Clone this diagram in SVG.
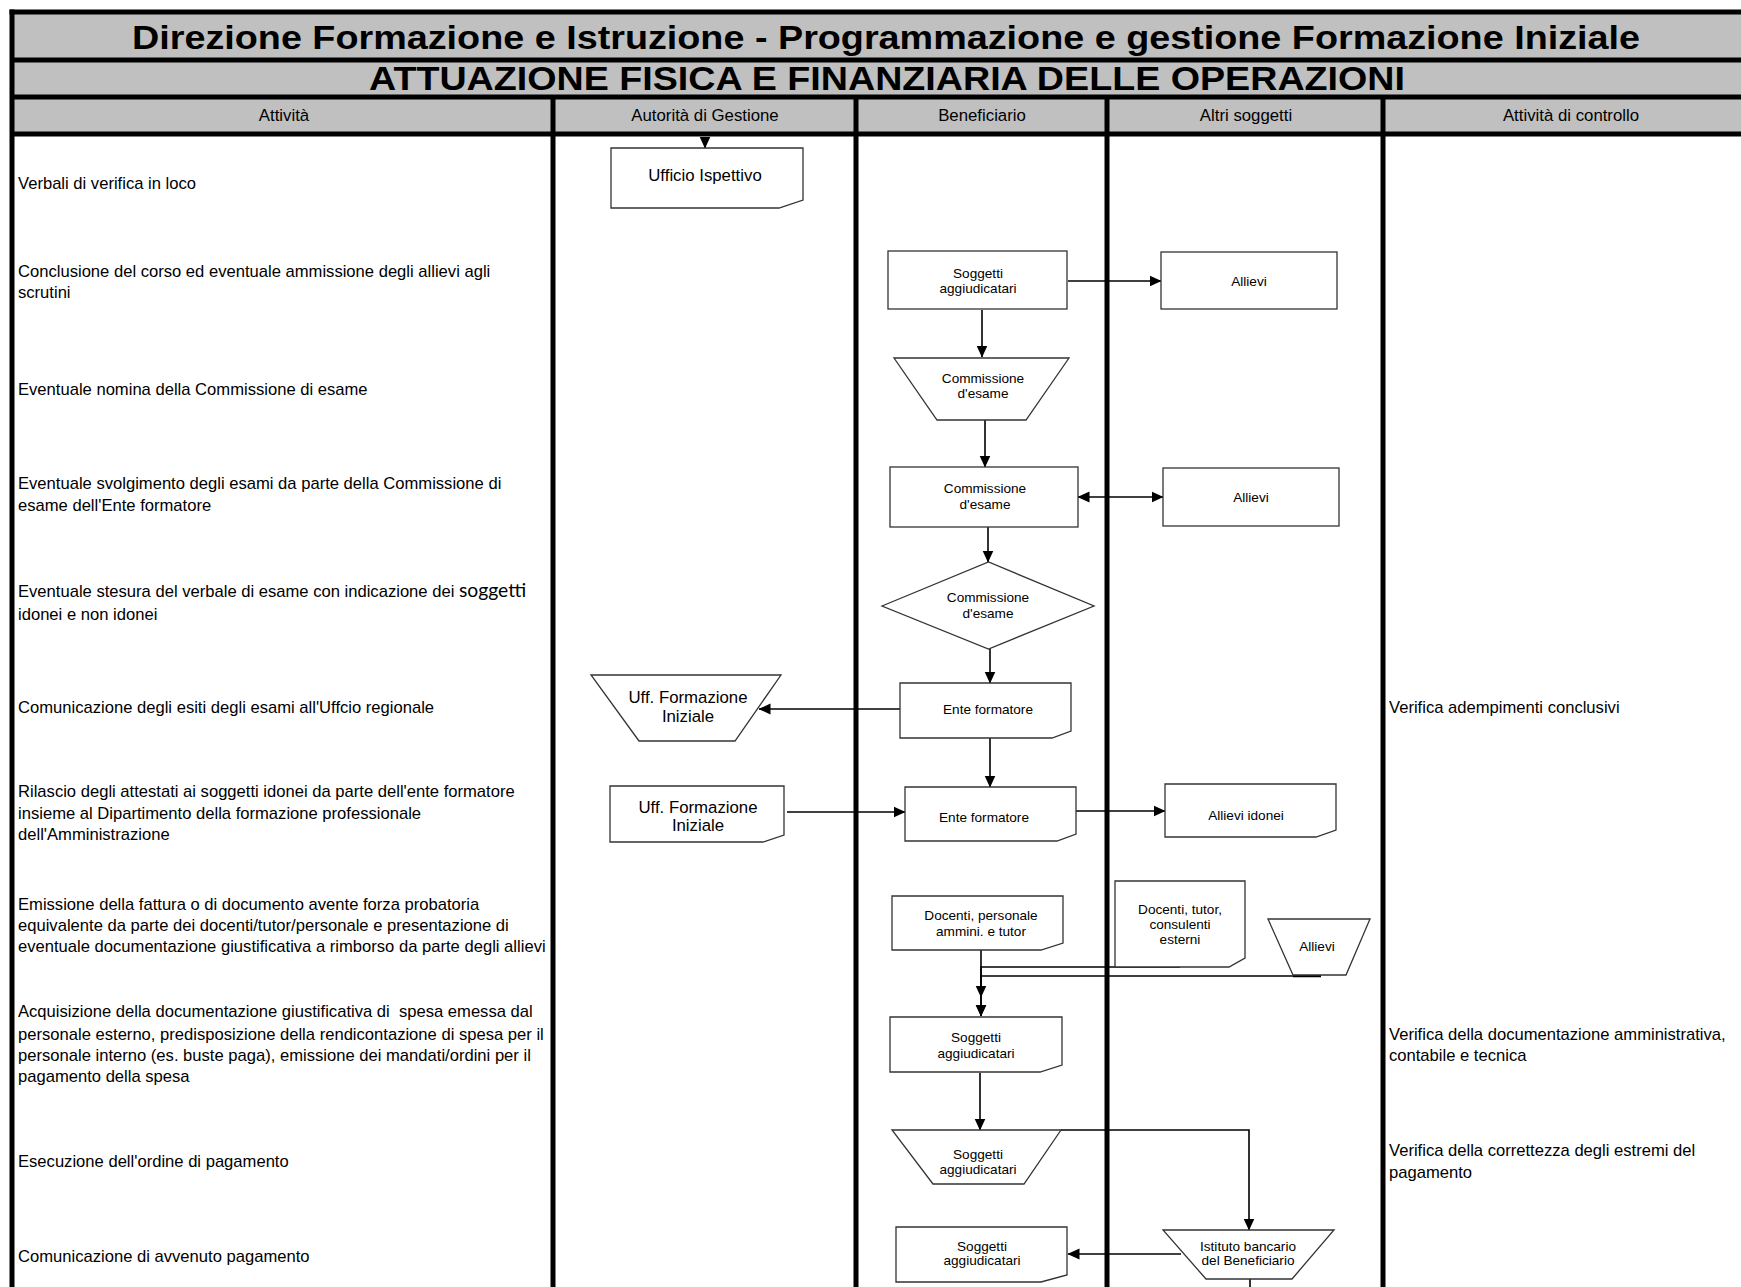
<svg xmlns="http://www.w3.org/2000/svg" width="1741" height="1287" viewBox="0 0 1741 1287">
<style>
text{font-family:"Liberation Sans",Arial,sans-serif;fill:#000}
.t{font-size:16.6px}
.hd{font-size:16.8px;text-anchor:middle}
.nl{font-size:13.6px;text-anchor:middle}
.nb{font-size:16.8px;text-anchor:middle}
.cal{font-family:Lato,"Open Sans",sans-serif;font-size:19.3px}
.frame{stroke:#000;stroke-width:5;fill:none}
.node{fill:#fff;stroke:#333;stroke-width:1.3}
.c{fill:none;stroke:#000;stroke-width:1.6}
.a{marker-end:url(#ah)}
.d{marker-start:url(#ah);marker-end:url(#ah)}
</style>
<defs>
<marker id="ah" viewBox="0 0 12 12" refX="11.5" refY="6" markerWidth="12" markerHeight="12" markerUnits="userSpaceOnUse" orient="auto-start-reverse">
<path d="M0,0.5 L12,6 L0,11.5 z" fill="#000"/>
</marker>
</defs>
<rect width="1741" height="1287" fill="#fff"/>
<g id="header">
<rect x="12" y="12" width="1729" height="122" fill="#c0c0c0"/>
<text x="886" y="49" font-size="34" font-weight="bold" text-anchor="middle" textLength="1508" lengthAdjust="spacingAndGlyphs">Direzione Formazione e Istruzione - Programmazione e gestione Formazione Iniziale</text>
<text x="887" y="90" font-size="33" font-weight="bold" text-anchor="middle" textLength="1036" lengthAdjust="spacingAndGlyphs">ATTUAZIONE FISICA E FINANZIARIA DELLE OPERAZIONI</text>
<text class="hd" x="284" y="120.5">Attività</text>
<text class="hd" x="705" y="120.5">Autorità di Gestione</text>
<text class="hd" x="982" y="120.5">Beneficiario</text>
<text class="hd" x="1246" y="120.5">Altri soggetti</text>
<text class="hd" x="1571" y="120.5">Attività di controllo</text>
</g>
<g id="grid">
<line class="frame" x1="9.5" y1="12" x2="1741" y2="12"/>
<line class="frame" x1="12" y1="60" x2="1741" y2="60"/>
<line class="frame" x1="12" y1="97" x2="1741" y2="97"/>
<line class="frame" x1="12" y1="134" x2="1741" y2="134"/>
<line class="frame" x1="12" y1="9.5" x2="12" y2="1287"/>
<line class="frame" x1="553" y1="97" x2="553" y2="1287"/>
<line class="frame" x1="856" y1="97" x2="856" y2="1287"/>
<line class="frame" x1="1107" y1="97" x2="1107" y2="1287"/>
<line class="frame" x1="1383" y1="97" x2="1383" y2="1287"/>
</g>
<g id="activities">
<text class="t" x="18" y="189">Verbali di verifica in loco</text>
<text class="t" x="18" y="277">Conclusione del corso ed eventuale ammissione degli allievi agli</text>
<text class="t" x="18" y="298">scrutini</text>
<text class="t" x="18" y="395">Eventuale nomina della Commissione di esame</text>
<text class="t" x="18" y="489">Eventuale svolgimento degli esami da parte della Commissione di</text>
<text class="t" x="18" y="511">esame dell'Ente formatore</text>
<text class="t" x="18" y="597">Eventuale stesura del verbale di esame con indicazione dei <tspan class="cal">soggetti</tspan></text>
<text class="t" x="18" y="620">idonei e non idonei</text>
<text class="t" x="18" y="713">Comunicazione degli esiti degli esami all'Uffcio regionale</text>
<text class="t" x="18" y="797">Rilascio degli attestati ai soggetti idonei da parte dell'ente formatore</text>
<text class="t" x="18" y="819">insieme al Dipartimento della formazione professionale</text>
<text class="t" x="18" y="840">dell'Amministrazione</text>
<text class="t" x="18" y="910">Emissione della fattura o di documento avente forza probatoria</text>
<text class="t" x="18" y="931">equivalente da parte dei docenti/tutor/personale e presentazione di</text>
<text class="t" x="18" y="952">eventuale documentazione giustificativa a rimborso da parte degli allievi</text>
<text class="t" x="18" y="1017" xml:space="preserve">Acquisizione della documentazione giustificativa di  spesa emessa dal</text>
<text class="t" x="18" y="1040">personale esterno, predisposizione della rendicontazione di spesa per il</text>
<text class="t" x="18" y="1061">personale interno (es. buste paga), emissione dei mandati/ordini per il</text>
<text class="t" x="18" y="1082">pagamento della spesa</text>
<text class="t" x="18" y="1167">Esecuzione dell'ordine di pagamento</text>
<text class="t" x="18" y="1262">Comunicazione di avvenuto pagamento</text>
</g>
<g id="controls">
<text class="t" x="1389" y="713">Verifica adempimenti conclusivi</text>
<text class="t" x="1389" y="1040">Verifica della documentazione amministrativa,</text>
<text class="t" x="1389" y="1061">contabile e tecnica</text>
<text class="t" x="1389" y="1156">Verifica della correttezza degli estremi del</text>
<text class="t" x="1389" y="1178">pagamento</text>
</g>
<g id="connectors">
<line class="c a" x1="705" y1="137" x2="705" y2="148"/>
<line class="c a" x1="1068" y1="281" x2="1161" y2="281"/>
<line class="c a" x1="982" y1="310" x2="982" y2="357"/>
<line class="c a" x1="985" y1="420" x2="985" y2="467"/>
<line class="c d" x1="1078" y1="497" x2="1163" y2="497"/>
<line class="c a" x1="988" y1="527" x2="988" y2="562"/>
<line class="c a" x1="990" y1="649" x2="990" y2="683"/>
<line class="c a" x1="900" y1="709" x2="759" y2="709"/>
<line class="c a" x1="990" y1="738" x2="990" y2="787"/>
<line class="c a" x1="787" y1="812" x2="905" y2="812"/>
<line class="c a" x1="1076" y1="811" x2="1165" y2="811"/>
<line class="c a" x1="981" y1="950" x2="981" y2="1016"/>
<polyline class="c a" points="1180,967 981,967 981,997"/>
<polyline class="c a" points="1321,976 981,976 981,1016"/>
<line x1="1293" y1="976" x2="1321" y2="976" stroke="#000" stroke-width="2.5"/>
<line class="c a" x1="980" y1="1073" x2="980" y2="1130"/>
<polyline class="c a" points="1061,1130 1249,1130 1249,1230"/>
<line class="c a" x1="1181" y1="1254" x2="1068" y2="1254"/>
<line class="c" x1="1250" y1="1279" x2="1250" y2="1287"/>
</g>
<g id="n-ufficio-ispettivo"><polygon class="node" points="611,148 803,148 803,200 779,208 611,208"/><text class="nb" x="705" y="181">Ufficio Ispettivo</text></g>
<g id="n-soggetti-1"><rect class="node" x="888" y="251" width="179" height="58"/><text class="nl" x="978" y="277.5">Soggetti</text><text class="nl" x="978" y="292.5">aggiudicatari</text></g>
<g id="n-allievi-1"><rect class="node" x="1161" y="252" width="176" height="57"/><text class="nl" x="1249" y="285.5">Allievi</text></g>
<g id="n-commissione-trap"><polygon class="node" points="894,358 1069,358 1026,420 937,420"/><text class="nl" x="983" y="382.5">Commissione</text><text class="nl" x="983" y="397.5">d'esame</text></g>
<g id="n-commissione-rect"><rect class="node" x="890" y="467" width="188" height="60"/><text class="nl" x="985" y="492.5">Commissione</text><text class="nl" x="985" y="508.5">d'esame</text></g>
<g id="n-allievi-2"><rect class="node" x="1163" y="468" width="176" height="58"/><text class="nl" x="1251" y="501.5">Allievi</text></g>
<g id="n-commissione-diamond"><polygon class="node" points="882,606 988.5,562 1094,606 988.5,649"/><text class="nl" x="988" y="601.5">Commissione</text><text class="nl" x="988" y="617.5">d'esame</text></g>
<g id="n-ente-1"><polygon class="node" points="900,683 1071,683 1071,731 1052,738 900,738"/><text class="nl" x="988" y="713.5">Ente formatore</text></g>
<g id="n-uff-trap"><polygon class="node" points="591,675 781,675 735,741 639,741"/><text class="nb" x="688" y="703">Uff. Formazione</text><text class="nb" x="688" y="722">Iniziale</text></g>
<g id="n-uff-rect"><polygon class="node" points="610,786 784,786 784,835 763,842 610,842"/><text class="nb" x="698" y="812.5">Uff. Formazione</text><text class="nb" x="698" y="831">Iniziale</text></g>
<g id="n-ente-2"><polygon class="node" points="905,787 1076,787 1076,834 1057,841 905,841"/><text class="nl" x="984" y="821.5">Ente formatore</text></g>
<g id="n-allievi-idonei"><polygon class="node" points="1165,784 1336,784 1336,830 1316,837 1165,837"/><text class="nl" x="1246" y="819.5">Allievi idonei</text></g>
<g id="n-docenti-personale"><polygon class="node" points="892,896 1063,896 1063,943 1041,950 892,950"/><text class="nl" x="981" y="919.5">Docenti, personale</text><text class="nl" x="981" y="935.5">ammini. e tutor</text></g>
<g id="n-docenti-tutor"><polygon class="node" points="1115,881 1245,881 1245,958 1229,967 1115,967"/><text class="nl" x="1180" y="913.5">Docenti, tutor,</text><text class="nl" x="1180" y="928.5">consulenti</text><text class="nl" x="1180" y="943.5">esterni</text></g>
<g id="n-allievi-trap"><polygon class="node" points="1268,919 1370,919 1346,975 1293,975"/><text class="nl" x="1317" y="950.5">Allievi</text></g>
<g id="n-soggetti-2"><polygon class="node" points="890,1017 1062,1017 1062,1065 1040,1072 890,1072"/><text class="nl" x="976" y="1041.5">Soggetti</text><text class="nl" x="976" y="1057.5">aggiudicatari</text></g>
<g id="n-soggetti-trap"><polygon class="node" points="892,1130 1061,1130 1024,1184 933,1184"/><text class="nl" x="978" y="1158.5">Soggetti</text><text class="nl" x="978" y="1173.5">aggiudicatari</text></g>
<g id="n-istituto"><polygon class="node" points="1163,1230 1334,1230 1292,1279 1206,1279"/><text class="nl" x="1248" y="1250.5">Istituto bancario</text><text class="nl" x="1248" y="1264.5">del Beneficiario</text></g>
<g id="n-soggetti-3"><polygon class="node" points="896,1227 1067,1227 1067,1275 1041,1282 896,1282"/><text class="nl" x="982" y="1250.5">Soggetti</text><text class="nl" x="982" y="1264.5">aggiudicatari</text></g>
</svg>
